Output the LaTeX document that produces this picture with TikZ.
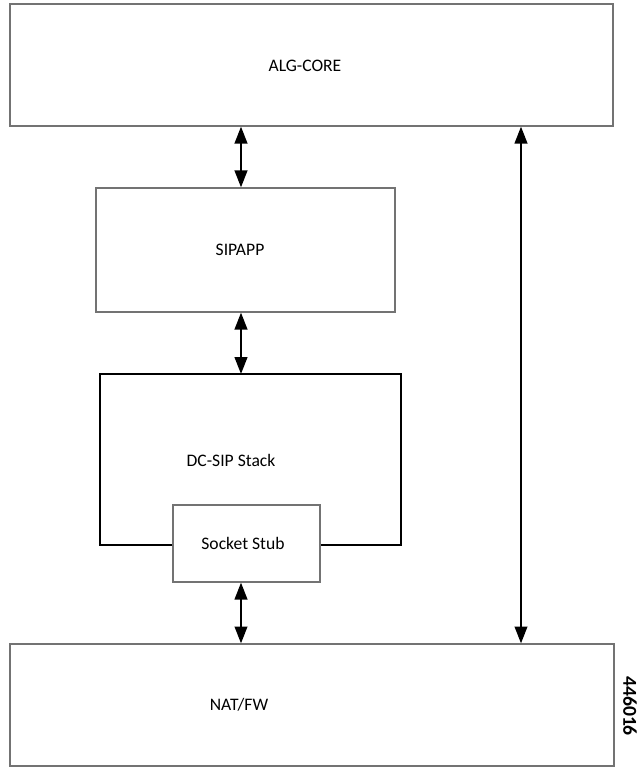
\documentclass[tikz,border=0pt]{standalone}
\usepackage{fontspec}
\setmainfont{Carlito}
\usetikzlibrary{arrows.meta, positioning}

\begin{document}
\begin{tikzpicture}[
    x=0.025cm, y=-0.025cm,
    box/.style={rectangle, draw=black!55, line width=0.9pt, inner sep=0pt},
    lbl/.style={font=\fontsize{12.5}{15}\selectfont},
    stack/.style={draw=black, line width=1.1pt},
    arrow/.style={{Triangle[length=12pt, width=9pt]}-{Triangle[length=12pt, width=9pt]}, line width=1.4pt}
]
    \useasboundingbox (0,0) rectangle (639,769);
    % boxes
    \node[box, minimum width=603*0.025cm, minimum height=122*0.025cm] (core) at (311.5,65) {};
    \node[lbl] (coretxt) at (305,66) {ALG-CORE};
    \node[box, minimum width=299*0.025cm, minimum height=124*0.025cm] (sipapp) at (245.5,250) {};
    \node[lbl] (sipapptxt) at (240,250) {SIPAPP};
    \node[box, minimum width=147*0.025cm, minimum height=77*0.025cm] (stub) at (246.5,543.5) {};
    \node[lbl] (stubtxt) at (243,543) {Socket Stub};
    \node[box, minimum width=604*0.025cm, minimum height=122*0.025cm] (nat) at (312,705) {};
    \node[lbl] (nattxt) at (239,705) {NAT/FW};
    % DC-SIP stack (open at the stub)
    \coordinate (stackL) at (stub.west |- 0,545);
    \coordinate (stackR) at (stub.east |- 0,545);
    \draw[stack] (stackL) -- (100,545) -- (100,374) -- (401,374) -- (401,545) -- (stackR);
    \node[lbl] (stacktxt) at (231,460) {DC-SIP Stack};
    % connectors
    \draw[arrow] (core.south -| 241,0) -- (sipapp.north -| 241,0);
    \draw[arrow] (sipapp.south -| 241,0) -- (241,374);
    \draw[arrow] (stub.south -| 241,0) -- (nat.north -| 241,0);
    \draw[arrow] (core.south -| 521,0) -- (nat.north -| 521,0);
    % figure number
    \node[rotate=-90, font=\fontsize{14}{16}\selectfont\bfseries] (fignum) at (630,706) {446016};
\end{tikzpicture}
\end{document}
